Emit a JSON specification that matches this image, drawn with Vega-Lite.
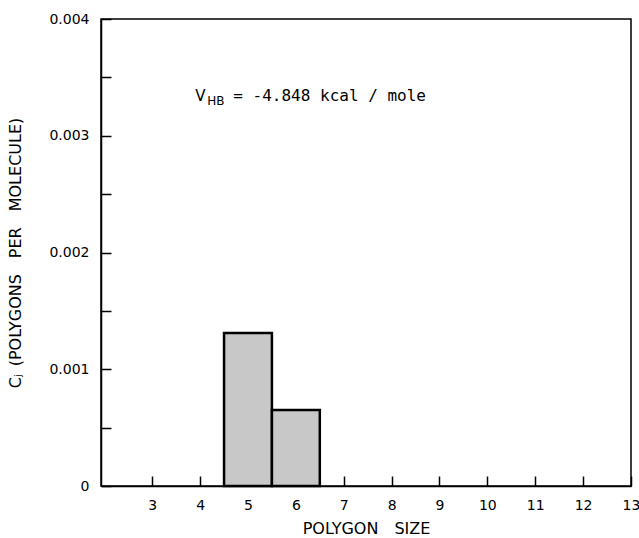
{
  "$schema": "https://vega.github.io/schema/vega-lite/v6.json",
  "autosize": "none",
  "width": 530,
  "height": 467,
  "padding": {"left": 101, "top": 19, "right": 8, "bottom": 52},
  "background": "white",
  "config": {
    "font": "DejaVu Sans",
    "view": {"stroke": "black", "strokeWidth": 1.5},
    "axis": {
      "domainColor": "black",
      "domainWidth": 1.5,
      "tickColor": "black",
      "tickWidth": 1.5,
      "labelColor": "black",
      "titleColor": "black",
      "labelFont": "DejaVu Sans",
      "titleFont": "DejaVu Sans",
      "labelFontSize": 14,
      "titleFontSize": 14,
      "titleFontWeight": "normal",
      "grid": false
    }
  },
  "layer": [
    {
      "data": {"values": [
        {"size": 5, "cj": 0.00131},
        {"size": 6, "cj": 0.00065}
      ]},
      "transform": [
        {"calculate": "datum.size - 0.5", "as": "x0"},
        {"calculate": "datum.size + 0.5", "as": "x1"}
      ],
      "mark": {"type": "rect", "fill": "#c8c8c8", "stroke": "black", "strokeWidth": 2.5},
      "encoding": {
        "x": {
          "field": "x0", "type": "quantitative",
          "scale": {"domain": [1.93, 13], "nice": false, "zero": false},
          "axis": {
            "title": "POLYGON\u2003SIZE",
            "titleFontSize": 16,
            "values": [3, 4, 5, 6, 7, 8, 9, 10, 11, 12, 13],
            "tickSize": -10,
            "labelPadding": 22,
            "titlePadding": 8,
            "labelFlush": false
          }
        },
        "x2": {"field": "x1"},
        "y": {
          "field": "cj", "type": "quantitative",
          "scale": {"domain": [0, 0.004], "nice": false},
          "axis": {
            "title": "C\u2C7C\u2002(POLYGONS\u2003PER\u2003MOLECULE)",
            "titleFontSize": 16,
            "values": [0, 0.0005, 0.001, 0.0015, 0.002, 0.0025, 0.003, 0.0035, 0.004],
            "labelExpr": "round(datum.value*2000) % 2 == 1 ? '' : (datum.value == 0 ? '0' : format(datum.value, '.3f'))",
            "tickSize": -10,
            "labelPadding": 22,
            "titlePadding": 25,
            "labelFlush": false
          }
        },
        "y2": {"datum": 0}
      }
    },
    {
      "data": {"values": [{"x": 3.9, "y": 0.0033}]},
      "mark": {"type": "text", "text": "V", "align": "left", "baseline": "alphabetic", "fontSize": 15, "font": "DejaVu Sans", "color": "black"},
      "encoding": {"x": {"field": "x", "type": "quantitative"}, "y": {"field": "y", "type": "quantitative"}}
    },
    {
      "data": {"values": [{"x": 3.9, "y": 0.0033}]},
      "mark": {"type": "text", "text": "HB", "align": "left", "baseline": "alphabetic", "fontSize": 12, "dx": 12, "dy": 4, "font": "DejaVu Sans", "color": "black"},
      "encoding": {"x": {"field": "x", "type": "quantitative"}, "y": {"field": "y", "type": "quantitative"}}
    },
    {
      "data": {"values": [{"x": 3.9, "y": 0.0033}]},
      "mark": {"type": "text", "text": "= -4.848 kcal / mole", "align": "left", "baseline": "alphabetic", "fontSize": 16, "dx": 38, "font": "DejaVu Sans Mono", "color": "black"},
      "encoding": {"x": {"field": "x", "type": "quantitative"}, "y": {"field": "y", "type": "quantitative"}}
    }
  ]
}
